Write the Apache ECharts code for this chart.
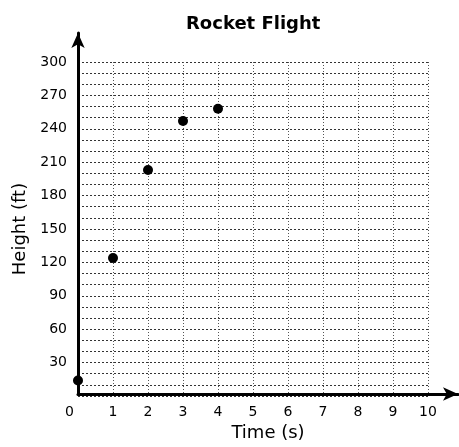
<!DOCTYPE html>
<html>
<head>
<meta charset="utf-8">
<script src="https://cdn.jsdelivr.net/npm/echarts@6/dist/echarts.min.js"></script>
<style>
html,body{margin:0;padding:0;background:#fff;}
#main{width:459px;height:447px;}
</style>
</head>
<body>
<div id="main"></div>
<script>
var timeValues = [0, 1, 2, 3, 4];
var heightValues = [14, 124, 203, 247, 258];
var xTicks = [0, 1, 2, 3, 4, 5, 6, 7, 8, 9, 10];
var yTicks = [0, 30, 60, 90, 120, 150, 180, 210, 240, 270, 300];
var titleText = 'Rocket Flight';
var xName = 'Time (s)';
var yName = 'Height (ft)';

var FONT = '"DejaVu Sans", "Liberation Sans", Arial, sans-serif';
var chart = echarts.init(document.getElementById('main'), null, {renderer: 'canvas'});
var points = timeValues.map(function (t, i) { return [t, heightValues[i]]; });
var gridLine = {show: true, lineStyle: {color: '#333', width: 1, type: [2, 2]}};

chart.setOption({
  backgroundColor: '#fff',
  animation: false,
  title: {
    text: titleText, left: 181, top: 10,
    textStyle: {fontFamily: FONT, fontSize: 18, fontWeight: 'bold', color: '#000'}
  },
  grid: [
    {left: 78, right: 31, top: 62, bottom: 51},
    {left: 78, right: 1, top: 33, bottom: 51}
  ],
  xAxis: [
    {
      gridIndex: 0, type: 'value', min: xTicks[0], max: xTicks[xTicks.length - 1], interval: 1,
      axisLine: {show: false}, axisTick: {show: false},
      splitLine: {show: true, lineStyle: {color: '#555', width: 1, type: [1, 2]}},
      axisLabel: {
        margin: 9, color: '#000', fontFamily: FONT, fontSize: 14,
        formatter: function (v) { return v === 0 ? '{z|0}' : String(v); },
        rich: {z: {fontFamily: FONT, fontSize: 14, color: '#000', padding: [0, 17, 15, 0]}}
      }
    },
    {
      gridIndex: 1, type: 'value', min: 0, max: 1,
      axisLine: {show: true, symbol: ['none', 'arrow'], symbolSize: [10, 15], lineStyle: {color: '#000', width: 3}},
      axisTick: {show: false}, axisLabel: {show: false}, splitLine: {show: false},
      name: xName, nameLocation: 'middle', nameGap: 30,
      nameTextStyle: {fontFamily: FONT, fontSize: 18, color: '#000'}
    }
  ],
  yAxis: [
    {
      gridIndex: 0, type: 'value', min: yTicks[0], max: yTicks[yTicks.length - 1], interval: 30,
      axisLine: {show: false}, axisTick: {show: false},
      splitLine: gridLine,
      minorTick: {show: false, splitNumber: 3},
      minorSplitLine: gridLine,
      axisLabel: {
        margin: 11, color: '#000', fontFamily: FONT, fontSize: 14,
        formatter: function (v) { return v === 0 ? '' : String(v); }
      },
      name: yName, nameLocation: 'middle', nameGap: 47,
      nameTextStyle: {fontFamily: FONT, fontSize: 18, color: '#000'}
    },
    {
      gridIndex: 1, type: 'value', min: 0, max: 1,
      axisLine: {show: true, symbol: ['none', 'arrow'], symbolSize: [10, 15], lineStyle: {color: '#000', width: 3}},
      axisTick: {show: false}, axisLabel: {show: false}, splitLine: {show: false}
    }
  ],
  series: [{
    type: 'scatter', xAxisIndex: 0, yAxisIndex: 0,
    data: points, symbol: 'circle', symbolSize: 10,
    itemStyle: {color: '#000', opacity: 1}, z: 5
  }]
});
</script>
</body>
</html>
